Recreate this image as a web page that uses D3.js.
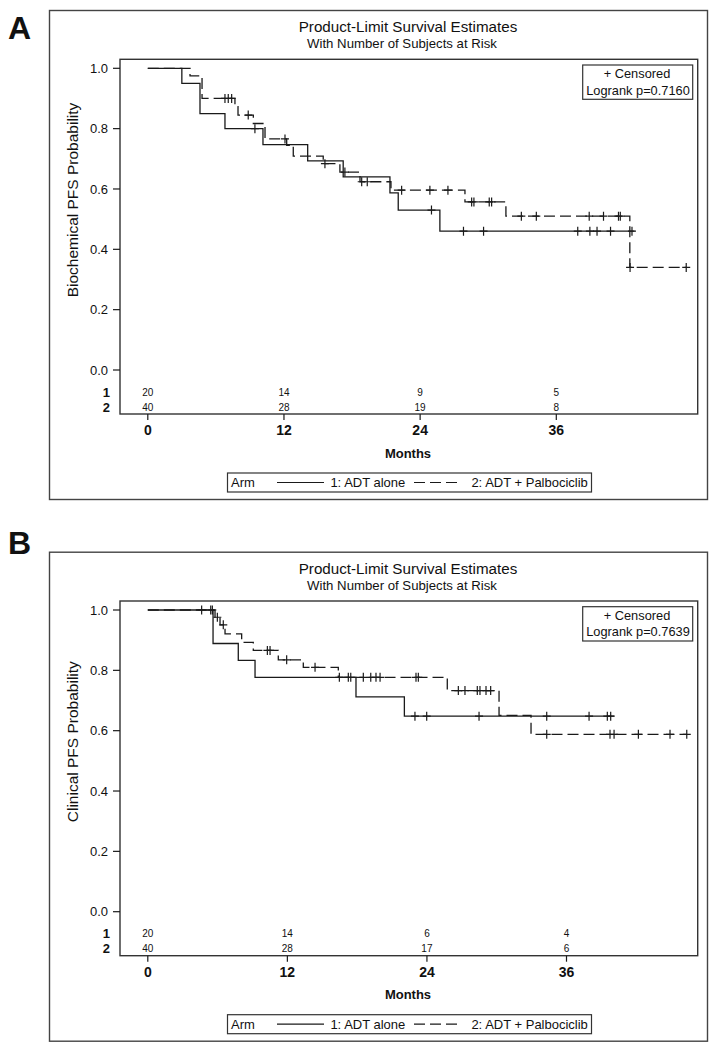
<!DOCTYPE html>
<html><head><meta charset="utf-8">
<script src="https://cdn.jsdelivr.net/npm/d3@7"></script>
<style>
body{margin:0;background:#fff;}
svg{display:block;}
text{font-family:"Liberation Sans", Arial, sans-serif; fill:#111;}
</style>
</head><body>
<svg id="chart" width="718" height="1050"></svg>
<script>
// ---------- shared labels ----------
const panelLetters = ["A", "B"];
const titleText = "Product-Limit Survival Estimates";
const subtitleText = "With Number of Subjects at Risk";
const yLabels = ["Biochemical PFS Probability", "Clinical PFS Probability"];
const logrankTexts = ["Logrank p=0.7160", "Logrank p=0.7639"];
const armLabels = ["1: ADT alone", "2: ADT + Palbociclib"];
const xTicks = [0, 12, 24, 36];
const yTicks = [0.0, 0.2, 0.4, 0.6, 0.8, 1.0];
const riskRowLabels = ["1", "2"];

// ---------- Panel A: Biochemical PFS ----------
const bioArm1Times = [0, 3.0, 4.6, 6.8, 10.15, 14.09, 17.22, 21.34, 22.07, 25.74, 42.89];
const bioArm1Surv  = [1.0, 0.95, 0.85, 0.80, 0.747, 0.693, 0.640, 0.587, 0.53, 0.46, 0.46];
const bioArm1Censor = [9.44, 25.0, 27.82, 29.59, 37.89, 38.96, 39.59, 40.78, 42.67];
const bioArm2Times = [0, 3.72, 4.78, 7.68, 7.95, 9.3, 10.33, 12.24, 12.82, 15.46, 16.93, 18.7, 21.43, 27.95, 31.56, 42.48, 47.45];
const bioArm2Surv  = [1.0, 0.975, 0.90, 0.873, 0.845, 0.817, 0.766, 0.745, 0.709, 0.684, 0.656, 0.624, 0.596, 0.557, 0.51, 0.34, 0.34];
const bioArm2Censor = [6.8, 7.09, 7.39, 8.85, 12.09, 15.61, 17.37, 18.85, 19.34, 22.37, 24.86, 26.45, 28.54, 28.74, 30.09, 30.3, 32.92, 34.24, 38.9, 40.16, 41.48, 41.64, 42.5, 47.45];
const bioRiskArm1 = [20, 14, 9, 5];
const bioRiskArm2 = [40, 28, 19, 8];

// ---------- Panel B: Clinical PFS ----------
const clinArm1Times = [0, 5.61, 7.78, 9.22, 17.9, 22.06, 40.1];
const clinArm1Surv  = [1.0, 0.889, 0.833, 0.777, 0.712, 0.648, 0.648];
const clinArm1Censor = [4.63, 5.41, 16.47, 22.97, 23.98, 28.48, 34.3, 37.94, 39.51, 39.8];
const clinArm2Times = [0, 5.78, 6.21, 6.64, 8.07, 9.07, 11.22, 13.37, 16.38, 25.75, 30.2, 32.95, 46.34];
const clinArm2Surv  = [1.0, 0.976, 0.951, 0.921, 0.893, 0.866, 0.835, 0.81, 0.777, 0.733, 0.651, 0.588, 0.588];
const clinArm2Censor = [5.55, 5.98, 6.49, 10.28, 10.51, 11.94, 14.38, 17.24, 17.45, 18.53, 19.17, 19.62, 19.97, 23.06, 23.26, 26.7, 27.27, 28.33, 28.56, 29.08, 29.48, 34.3, 39.74, 40.09, 42.18, 44.9, 46.34];
const clinRiskArm1 = [20, 14, 6, 4];
const clinRiskArm2 = [40, 28, 17, 6];

const panels = [
  {letter: panelLetters[0], dy: 0, letterY: 39, x36: 556.3, yLabel: yLabels[0], logrank: logrankTexts[0],
   arms: [
     {times: bioArm1Times, surv: bioArm1Surv, censor: bioArm1Censor, dash: null},
     {times: bioArm2Times, surv: bioArm2Surv, censor: bioArm2Censor, dash: "11,5"}],
   risk: [bioRiskArm1, bioRiskArm2]},
  {letter: panelLetters[1], dy: 541.7, letterY: 554, x36: 566.5, yLabel: yLabels[1], logrank: logrankTexts[1],
   arms: [
     {times: clinArm1Times, surv: clinArm1Surv, censor: clinArm1Censor, dash: null},
     {times: clinArm2Times, surv: clinArm2Surv, censor: clinArm2Censor, dash: "11,5"}],
   risk: [clinRiskArm1, clinRiskArm2]}
];

const svg = d3.select("#chart");
const ink = "#1a1a1a";

function levelAt(times, surv, t) {
  let i = d3.bisectRight(times, t) - 1;
  if (i < 0) i = 0;
  return surv[i];
}

panels.forEach((p, pi) => {
  const g = svg.append("g").attr("transform", `translate(0,${p.dy})`);
  const x = d3.scaleLinear().domain([0, 36]).range([147.8, p.x36]);
  const y = d3.scaleLinear().domain([0, 1]).range([370, 68.3]);

  // panel letter
  svg.append("text").attr("x", 8).attr("y", p.letterY)
    .attr("font-size", 32).attr("font-weight", "bold").text(p.letter);

  // outer box
  g.append("rect").attr("x", 49.5).attr("y", 10.5).attr("width", 658).attr("height", 489)
    .attr("fill", "none").attr("stroke", "#444").attr("stroke-width", 1.4);

  // titles
  g.append("text").attr("x", 408).attr("y", 32).attr("text-anchor", "middle")
    .attr("font-size", 15.2).text(titleText);
  g.append("text").attr("x", 402).attr("y", 48).attr("text-anchor", "middle")
    .attr("font-size", 13.2).text(subtitleText);

  // plot frame
  g.append("rect").attr("x", 120).attr("y", 59.3).attr("width", 577.7).attr("height", 354.7)
    .attr("fill", "none").attr("stroke", "#333").attr("stroke-width", 1.4);

  // y axis ticks
  const yt = g.append("g");
  yTicks.forEach(v => {
    yt.append("line").attr("x1", 113).attr("x2", 120).attr("y1", y(v)).attr("y2", y(v))
      .attr("stroke", ink).attr("stroke-width", 1.2);
    yt.append("text").attr("x", 108).attr("y", y(v)).attr("dy", "0.36em")
      .attr("text-anchor", "end").attr("font-size", 13).text(v.toFixed(1));
  });
  // y label
  g.append("text").attr("transform", `translate(77.5,${200}) rotate(-90)`)
    .attr("text-anchor", "middle").attr("font-size", 15.5).text(p.yLabel);

  // x axis ticks
  xTicks.forEach(v => {
    g.append("line").attr("x1", x(v)).attr("x2", x(v)).attr("y1", 414).attr("y2", 420)
      .attr("stroke", ink).attr("stroke-width", 1.2);
    g.append("text").attr("x", x(v)).attr("y", 435).attr("text-anchor", "middle")
      .attr("font-size", 14).attr("font-weight", "bold").text(v);
  });
  g.append("text").attr("x", 408).attr("y", 457.5).attr("text-anchor", "middle")
    .attr("font-size", 13).attr("font-weight", "bold").text("Months");

  // at-risk rows
  const rowY = [392, 407];
  p.risk.forEach((row, ri) => {
    g.append("text").attr("x", 110).attr("y", rowY[ri]).attr("dy", "0.36em")
      .attr("text-anchor", "end").attr("font-size", 13).attr("font-weight", "bold").text(riskRowLabels[ri]);
    row.forEach((n, k) => {
      g.append("text").attr("x", x(xTicks[k])).attr("y", rowY[ri]).attr("dy", "0.36em")
        .attr("text-anchor", "middle").attr("font-size", 10).text(n);
    });
  });

  // curves
  const line = d3.line().x(d => x(d[0])).y(d => y(d[1])).curve(d3.curveStepAfter);
  p.arms.forEach(arm => {
    const pts = arm.times.map((t, i) => [t, arm.surv[i]]);
    g.append("path").attr("d", line(pts)).attr("fill", "none")
      .attr("stroke", ink).attr("stroke-width", 1.3)
      .attr("stroke-dasharray", arm.dash);
    arm.censor.forEach(t => {
      const cx = x(t), cy = y(levelAt(arm.times, arm.surv, t));
      g.append("path").attr("d", `M${cx-4},${cy}H${cx+4}M${cx},${cy-4.5}V${cy+4.5}`)
        .attr("stroke", ink).attr("stroke-width", 1.2).attr("fill", "none");
    });
  });

  // censored / logrank legend
  g.append("rect").attr("x", 582.7).attr("y", 65).attr("width", 110).attr("height", 34.3)
    .attr("fill", "#fff").attr("stroke", "#333").attr("stroke-width", 1.2);
  g.append("text").attr("x", 637).attr("y", 78).attr("text-anchor", "middle")
    .attr("font-size", 12.8).text("+ Censored");
  g.append("text").attr("x", 638).attr("y", 94.5).attr("text-anchor", "middle")
    .attr("font-size", 12.8).text(p.logrank);

  // arm legend
  const lg = g.append("g");
  lg.append("rect").attr("x", 227.5).attr("y", 473).attr("width", 364).attr("height", 19)
    .attr("fill", "none").attr("stroke", "#333").attr("stroke-width", 1.2);
  lg.append("text").attr("x", 231).attr("y", 487).attr("font-size", 13).text("Arm");
  lg.append("line").attr("x1", 277).attr("x2", 324).attr("y1", 482.5).attr("y2", 482.5)
    .attr("stroke", ink).attr("stroke-width", 1.2);
  lg.append("text").attr("x", 330.4).attr("y", 487).attr("font-size", 13).text(armLabels[0]);
  lg.append("line").attr("x1", 414).attr("x2", 460).attr("y1", 482.5).attr("y2", 482.5)
    .attr("stroke", ink).attr("stroke-width", 1.2).attr("stroke-dasharray", "11,5");
  lg.append("text").attr("x", 471.4).attr("y", 487).attr("font-size", 13).text(armLabels[1]);
});
</script>
</body></html>
